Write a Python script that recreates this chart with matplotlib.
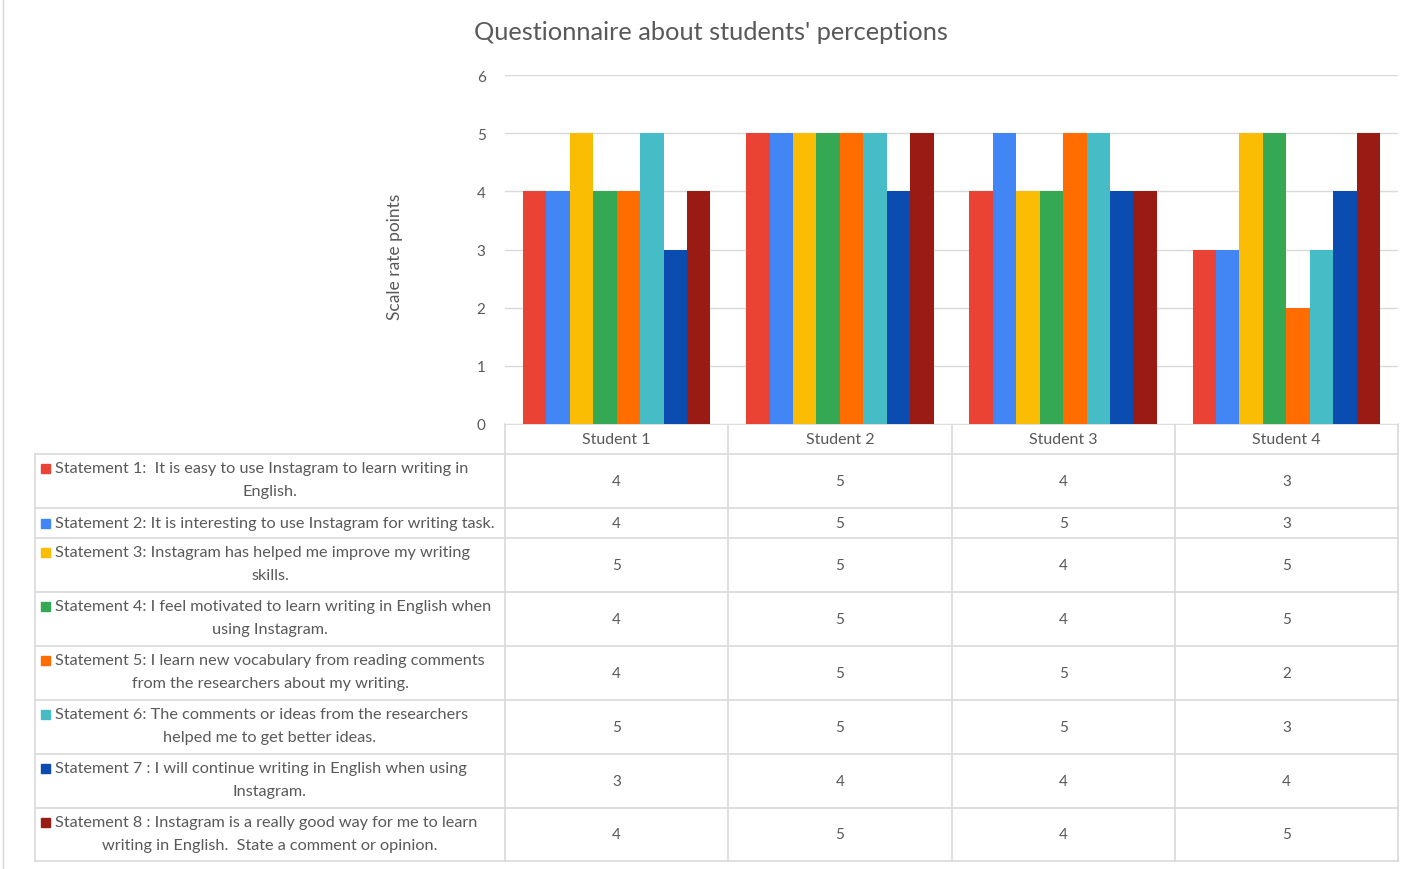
import numpy as np
import matplotlib.pyplot as plt
from matplotlib.patches import Rectangle

plt.rcParams['font.family'] = ['Lato', 'DejaVu Sans']

students = ['Student 1', 'Student 2', 'Student 3', 'Student 4']

statement_labels = [
    "Statement 1:  It is easy to use Instagram to learn writing in\nEnglish.",
    "Statement 2: It is interesting to use Instagram for writing task.",
    "Statement 3: Instagram has helped me improve my writing\nskills.",
    "Statement 4: I feel motivated to learn writing in English when\nusing Instagram.",
    "Statement 5: I learn new vocabulary from reading comments\nfrom the researchers about my writing.",
    "Statement 6: The comments or ideas from the researchers\nhelped me to get better ideas.",
    "Statement 7 : I will continue writing in English when using\nInstagram.",
    "Statement 8 : Instagram is a really good way for me to learn\nwriting in English.  State a comment or opinion.",
]

# score of each statement for Student 1..4
statement_1 = [4, 5, 4, 3]
statement_2 = [4, 5, 5, 3]
statement_3 = [5, 5, 4, 5]
statement_4 = [4, 5, 4, 5]
statement_5 = [4, 5, 5, 2]
statement_6 = [5, 5, 5, 3]
statement_7 = [3, 4, 4, 4]
statement_8 = [4, 5, 4, 5]
scores = [statement_1, statement_2, statement_3, statement_4,
          statement_5, statement_6, statement_7, statement_8]

colors = ['#EA4335', '#4285F4', '#FBBC04', '#34A853',
          '#FF6D01', '#46BDC6', '#0B4CB0', '#9A1B14']

text_col = '#595959'
line_col = '#D9D9D9'

W, H = 1420, 870
fig = plt.figure(figsize=(W / 100, H / 100), dpi=100)


def box(x0, y0, x1, y1):
    # pixel box (y from top) -> figure fraction rect
    return [x0 / W, 1 - y1 / H, (x1 - x0) / W, (y1 - y0) / H]


# table / background layer in pixel coordinates
tax = fig.add_axes([0, 0, 1, 1])
tax.set_xlim(0, W)
tax.set_ylim(H, 0)
tax.axis('off')

# chart
ax = fig.add_axes(box(505, 76, 1398, 425))
n = len(scores)
x = np.arange(len(students))
group_w = 0.84
bw = group_w / n
for i, (vals, c) in enumerate(zip(scores, colors)):
    ax.bar(x - group_w / 2 + bw * (i + 0.5), vals, width=bw, color=c, zorder=3)
ax.set_xlim(-0.5, len(students) - 0.5)
ax.set_ylim(0, 6)
ax.set_yticks(range(7))
ax.grid(axis='y', color=line_col, lw=1, zorder=0)
for s in ax.spines.values():
    s.set_visible(False)
ax.tick_params(axis='y', length=0, pad=14, labelsize=11, labelcolor=text_col)
ax.set_xticks([])

fig.text(711 / W, 1 - 33 / H, "Questionnaire about students' perceptions",
         ha='center', va='center', fontsize=18.3, color=text_col)
fig.text(395 / W, 1 - 257 / H, 'Scale rate points', rotation=90,
         ha='center', va='center', fontsize=12.5, color=text_col)

# left frame line
tax.plot([3, 3], [0, H], color=line_col, lw=1)

# table geometry
col_edges = [505 + (1398 - 505) / len(students) * k for k in range(len(students) + 1)]
row_edges = [455, 509, 539, 593, 647, 701, 755, 809, 862]
head_top = 425

# header row
tax.plot([col_edges[0], col_edges[-1]], [head_top, head_top], color=line_col, lw=1.2)
for k, name in enumerate(students):
    cx = (col_edges[k] + col_edges[k + 1]) / 2
    tax.text(cx, 440, name, ha='center', va='center', fontsize=11.5, color=text_col)

# horizontal lines
for y in row_edges:
    tax.plot([35, col_edges[-1]], [y, y], color=line_col, lw=1.2)
# vertical lines
tax.plot([35, 35], [row_edges[0], row_edges[-1]], color=line_col, lw=1.2)
for xe in col_edges:
    tax.plot([xe, xe], [head_top, row_edges[-1]], color=line_col, lw=1.2)

for r, (label, vals, c) in enumerate(zip(statement_labels, scores, colors)):
    top, bot = row_edges[r], row_edges[r + 1]
    mid = (top + bot) / 2
    lines = label.split('\n')
    if len(lines) == 1:
        y1 = mid
    else:
        y1 = top + 14
    tax.add_patch(Rectangle((41, y1 - 4.5), 9, 9, color=c))
    tax.text(55, y1, lines[0], ha='left', va='center', fontsize=11.7, color=text_col)
    if len(lines) > 1:
        tax.text(270, top + 37, lines[1], ha='center', va='center',
                 fontsize=11.7, color=text_col)
    for k, v in enumerate(vals):
        cx = (col_edges[k] + col_edges[k + 1]) / 2
        tax.text(cx, mid, str(v), ha='center', va='center', fontsize=11, color=text_col)

fig.savefig('out.png', dpi=100, facecolor='white')
